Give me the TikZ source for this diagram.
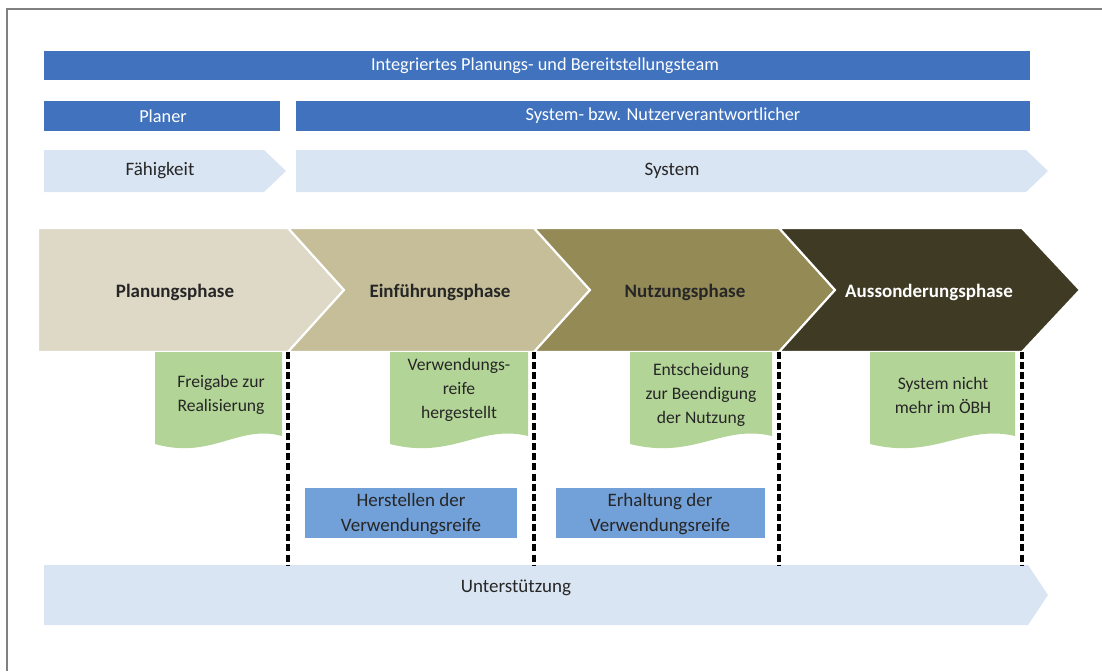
\documentclass[tikz,border=0pt]{standalone}
\usepackage{fontspec}
\setmainfont{Carlito}
\usepackage{xcolor}
\definecolor{teamblue}{RGB}{64,114,190}
\definecolor{paleblue}{RGB}{218,229,243}
\definecolor{taskblue}{RGB}{114,160,216}
\definecolor{milegreen}{RGB}{178,212,150}
\definecolor{phaseA}{RGB}{222,217,198}
\definecolor{phaseB}{RGB}{197,190,152}
\definecolor{phaseC}{RGB}{148,138,86}
\definecolor{phaseD}{RGB}{62,58,36}
\usetikzlibrary{calc}
\tikzset{
	bartext/.style={text=white, font=\fontsize{13}{15}\selectfont},
	label/.style={text=black!85, font=\fontsize{13.5}{17.5}\selectfont, align=center},
	mile/.style={label, font=\fontsize{12.5}{17}\selectfont},
	phasetext/.style={text=black!85, font=\bfseries\fontsize{13.5}{15}\selectfont},
	phase/.style={draw=white, line width=1.5pt},
	cut/.style={line width=2.2pt, dash pattern=on 5pt off 2.2pt}
}

\begin{document}
\begin{tikzpicture}[x=0.025cm, y=-0.025cm]
		\useasboundingbox (0, 0) rectangle (1102, 671);
		\draw[gray, line width=1pt]	(1102, 9) -- (7, 9) -- (7, 671);

		\fill[teamblue]	(44, 51) rectangle (1030, 80);
		\node[bartext] (team) at (545, 65.5) {Integriertes Planungs- und Bereitstellungsteam};
		\fill[teamblue]	(44, 101) rectangle (280, 131);
		\node[bartext] (planer) at (163, 116) {Planer};
		\fill[teamblue]	(296, 101) rectangle (1030, 131);
		\node[bartext] (nutzer) at (663, 116) {System- bzw. Nutzerverantwortlicher};

		\fill[paleblue]	(44, 150) -- (264, 150) -- (286, 171) -- (264, 192) -- (44, 192) -- cycle;
		\node[label] (faehigkeit) at (160, 171) {Fähigkeit};
		\fill[paleblue]	(296, 150) -- (1026, 150) -- (1048, 171) -- (1026, 192) -- (296, 192) -- cycle;
		\node[label] (system) at (672, 171) {System};

		\filldraw[phase, fill=phaseA]	(38, 228) -- (288, 228) -- (344, 290) -- (288, 352) -- (38, 352) -- cycle;
		\filldraw[phase, fill=phaseB]	(288, 228) -- (534, 228) -- (590, 290) -- (534, 352) -- (288, 352) -- (344, 290) -- cycle;
		\filldraw[phase, fill=phaseC]	(534, 228) -- (779, 228) -- (835, 290) -- (779, 352) -- (534, 352) -- (590, 290) -- cycle;
		\filldraw[phase, fill=phaseD]	(779, 228) -- (1022, 228) -- (1080, 290) -- (1022, 352) -- (779, 352) -- (835, 290) -- cycle;
		\node[phasetext] (planung) at (175, 292) {Planungsphase};
		\node[phasetext] (einfuehrung) at (440, 292) {Einführungsphase};
		\node[phasetext] (nutzung) at (685, 292) {Nutzungsphase};
		\node[phasetext, text=white] (aussonderung) at (929, 292) {Aussonderungsphase};

		\fill[milegreen]	(155, 352) -- (282, 352) -- (282, 436) .. controls (238, 424) and (212, 460) .. (155, 444) -- cycle;
		\node[mile] (freigabe) at (221, 395) {Freigabe zur\\Realisierung};
		\fill[milegreen]	(390, 352) -- (528, 352) -- (528, 436) .. controls (480, 424) and (452, 460) .. (390, 444) -- cycle;
		\node[mile] (reife) at (459, 390) {Verwendungs-\\reife\\hergestellt};
		\fill[milegreen]	(630, 352) -- (772, 352) -- (772, 436) .. controls (722, 424) and (694, 460) .. (630, 444) -- cycle;
		\node[mile] (entscheidung) at (701, 395) {Entscheidung\\zur Beendigung\\der Nutzung};
		\fill[milegreen]	(870, 352) -- (1015, 352) -- (1015, 436) .. controls (964, 424) and (934, 460) .. (870, 444) -- cycle;
		\node[mile] (ende) at (943, 395) {System nicht\\mehr im ÖBH};

		\fill[taskblue]	(305, 488) rectangle (517, 538);
		\node[label] (herstellen) at (411, 514) {Herstellen der\\Verwendungsreife};
		\fill[taskblue]	(556, 488) rectangle (765, 538);
		\node[label] (erhaltung) at (660, 514) {Erhaltung der\\Verwendungsreife};

		\fill[paleblue]	(44, 565) -- (1028, 565) -- (1048, 595) -- (1028, 625) -- (44, 625) -- cycle;
		\node[label] (unterstuetzung) at (516, 588) {Unterstützung};

		\coordinate (m1) at (288, 352);
		\coordinate (m2) at (534, 352);
		\coordinate (m3) at (779, 352);
		\coordinate (m4) at (1022, 352);
		\foreach \m in {m1, m2, m3, m4}
			\draw[cut]	(\m) to (\m |- 0, 565);
	\end{tikzpicture}
\end{document}
